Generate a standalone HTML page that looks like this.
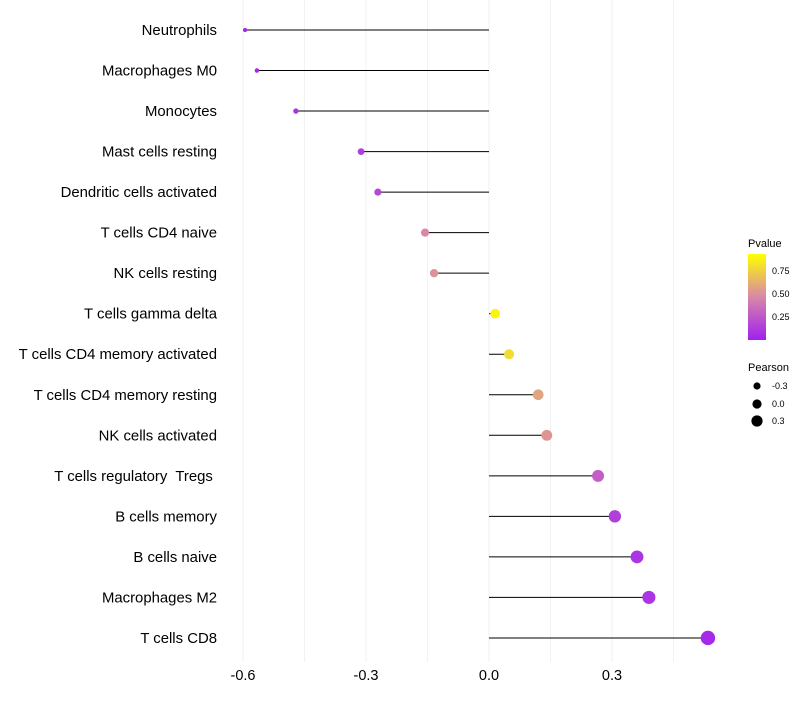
<!DOCTYPE html>
<html><head><meta charset="utf-8"><style>
body{margin:0;background:#fff;font-family:"Liberation Sans",Arial,sans-serif}
text{white-space:pre}
</style></head><body>
<svg id="chart" width="800" height="700" xmlns="http://www.w3.org/2000/svg">
<defs><linearGradient id="pg" x1="0" y1="1" x2="0" y2="0">
<stop offset="0" stop-color="#a020f0"/><stop offset="0.5" stop-color="#d887a8"/><stop offset="1" stop-color="#ffff00"/></linearGradient></defs>
<g id="grid"></g><g id="marks"></g><g id="labels"></g>
<g font-size="10">
<text x="748" y="247" font-size="11">Pvalue</text>
<rect x="748" y="254" width="18" height="86" fill="url(#pg)"/>
<text x="772" y="274" font-size="9">0.75</text><text x="772" y="297" font-size="9">0.50</text><text x="772" y="320" font-size="9">0.25</text>
</g>
<g>
<text x="748" y="371" font-size="11">Pearson</text>
<circle cx="757" cy="386" r="3.6"/><text x="772" y="389" font-size="9">-0.3</text>
<circle cx="757" cy="404" r="4.6"/><text x="772" y="407" font-size="9">0.0</text>
<circle cx="757" cy="421" r="5.6"/><text x="772" y="424" font-size="9">0.3</text>
</g>
</svg>
<script>
const categories=["Neutrophils","Macrophages M0","Monocytes","Mast cells resting","Dendritic cells activated","T cells CD4 naive","NK cells resting","T cells gamma delta","T cells CD4 memory activated","T cells CD4 memory resting","NK cells activated","T cells regulatory  Tregs ","B cells memory","B cells naive","Macrophages M2","T cells CD8"];
const pearson=[-0.595,-0.566,-0.471,-0.312,-0.271,-0.156,-0.134,0.015,0.049,0.12,0.141,0.266,0.307,0.361,0.39,0.534];
const pvalues=[0.04,0.05,0.1,0.15,0.2,0.5,0.55,0.95,0.85,0.62,0.56,0.3,0.15,0.1,0.1,0.05];
const xTicks=[-0.6,-0.3,0.0,0.3];
const xTickLabels=["-0.6","-0.3","0.0","0.3"];
const NS="http://www.w3.org/2000/svg";
const x=v=>489+410*v;
const y=i=>30+i*40.53;
const r=v=>4.8+4.5*v;
function lerp(a,b,t){return a.map((c,i)=>Math.round(c+(b[i]-c)*t));}
function col(p){const s=[[160,32,240],[216,135,168],[255,255,0]];const t=Math.max(0,Math.min(1,p));
 const c=t<0.5?lerp(s[0],s[1],t/0.5):lerp(s[1],s[2],(t-0.5)/0.5);return `rgb(${c})`;}
function mk(t,a,p){const e=document.createElementNS(NS,t);for(const k in a)e.setAttribute(k,a[k]);p.appendChild(e);return e;}
const grid=document.getElementById('grid'),marks=document.getElementById('marks'),labels=document.getElementById('labels');
for(let v=-0.6;v<=0.46;v+=0.15){const g=mk('line',{x1:x(v),x2:x(v),y1:0,y2:662,stroke:'#f2f2f2','stroke-width':1},grid);

}
xTicks.forEach((v,i)=>{const t=mk('text',{x:x(v),y:680,'text-anchor':'middle','font-size':14.5},labels);t.textContent=xTickLabels[i];

});
categories.forEach((c,i)=>{
 const t=mk('text',{x:217,y:y(i)+5,'text-anchor':'end','font-size':14.9},labels);t.textContent=c;
 
 
 const l=mk('line',{x1:x(0),x2:x(pearson[i]),y1:y(i),y2:y(i),stroke:'#000','stroke-width':1},marks);
 
 
 const d=mk('circle',{cx:x(pearson[i]),cy:y(i),r:r(pearson[i]),fill:col(pvalues[i])},marks);
 
 
});
</script>
</body></html>
